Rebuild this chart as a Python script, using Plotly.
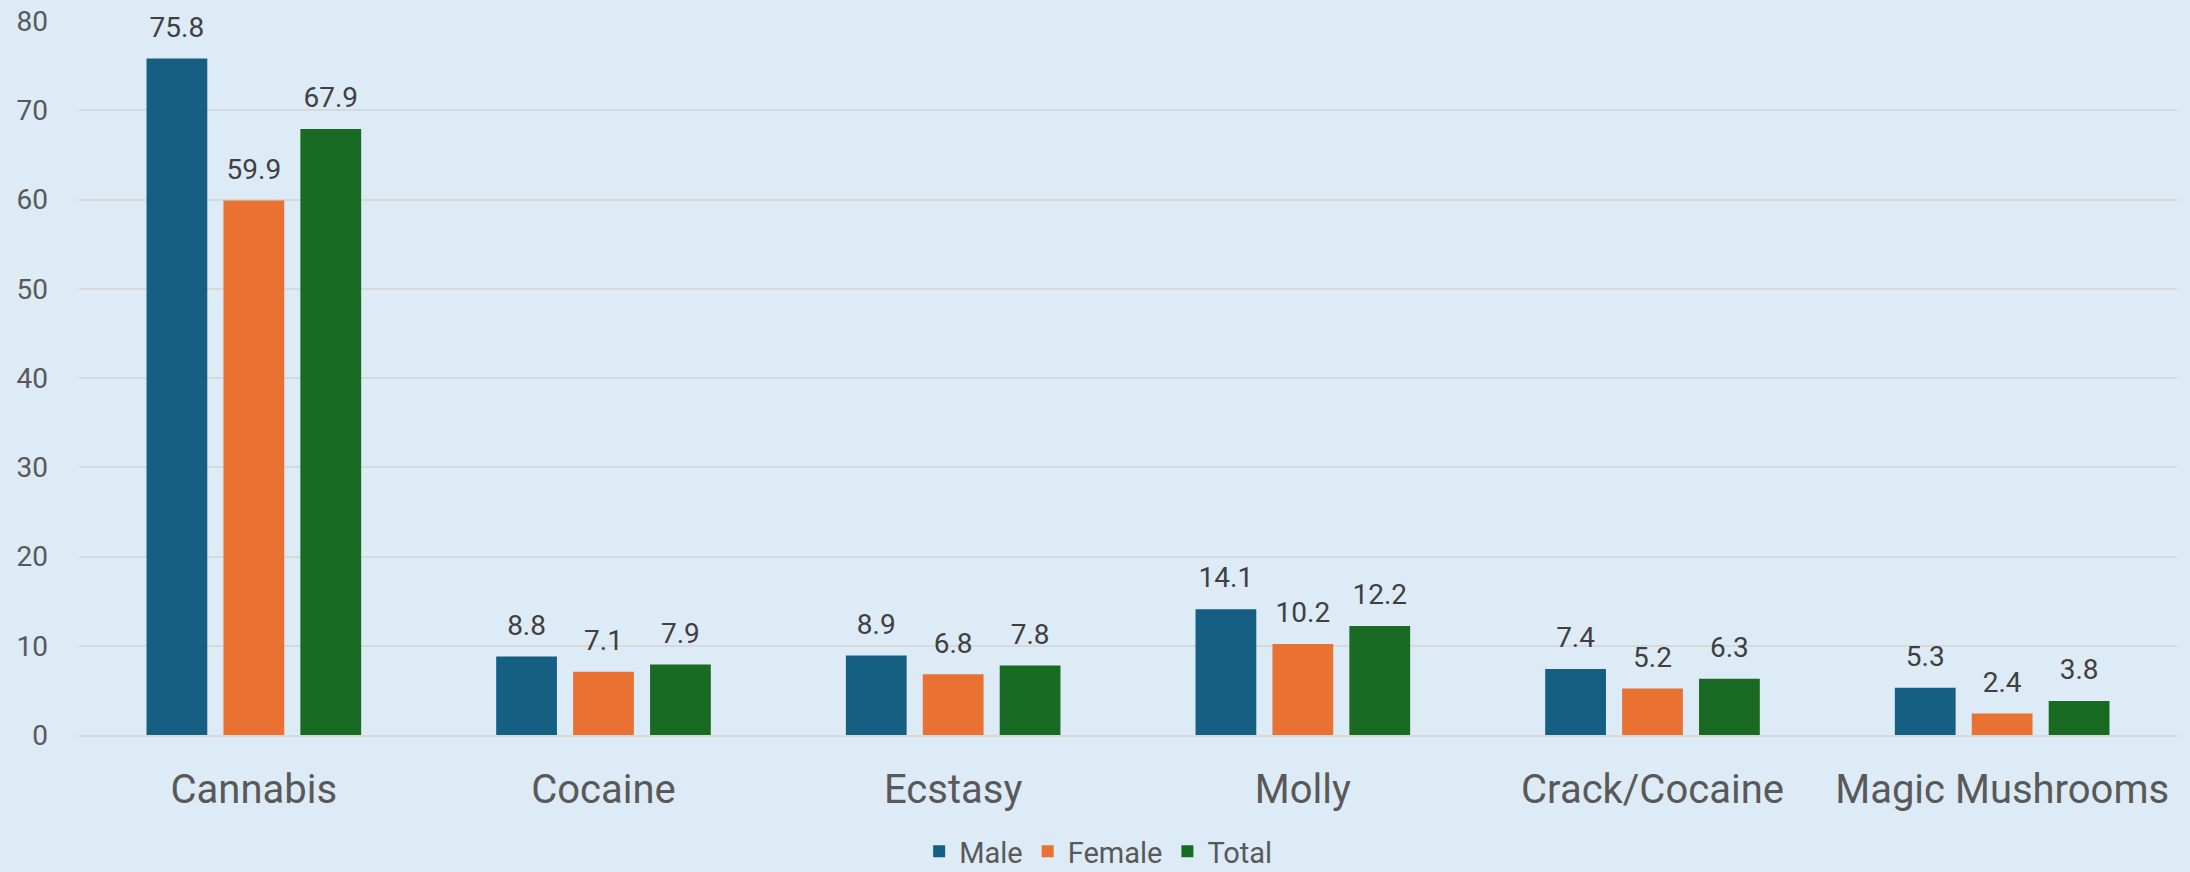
import plotly.graph_objects as go

categories = ["Cannabis", "Cocaine", "Ecstasy", "Molly", "Crack/Cocaine", "Magic Mushrooms"]
male = [75.8, 8.8, 8.9, 14.1, 7.4, 5.3]
female = [59.9, 7.1, 6.8, 10.2, 5.2, 2.4]
total = [67.9, 7.9, 7.8, 12.2, 6.3, 3.8]
series_names = ["Male", "Female", "Total"]
colors = ["#156082", "#E97132", "#196B24"]
y_ticks = [0, 10, 20, 30, 40, 50, 60, 70, 80]

FONT = "Roboto"
fig = go.Figure()
for i, (name, vals, col) in enumerate(zip(series_names, [male, female, total], colors)):
    fig.add_trace(go.Bar(
        name=name, x=categories, y=vals, offsetgroup=str(i),
        marker=dict(color=col, line=dict(width=0)),
        cliponaxis=False,
    ))
for i, (name, vals) in enumerate(zip(series_names, [male, female, total])):
    fig.add_trace(go.Scatter(
        x=categories, y=vals, offsetgroup=str(i), mode="markers+text",
        marker=dict(size=22, opacity=0), showlegend=False, hoverinfo="skip",
        text=[f"{v:.1f}" for v in vals], textposition="top center",
        textfont=dict(family=FONT, size=28, color="#404040"),
        cliponaxis=False,
    ))

fig.update_layout(
    width=2190, height=872,
    margin=dict(l=79, r=13, t=21, b=137, autoexpand=False),
    paper_bgcolor="#DDEBF7", plot_bgcolor="#DDEBF7",
    barmode="group", bargap=0.34, bargroupgap=0.21,
    scattermode="group", scattergap=0.34,
    font=dict(family=FONT, color="#595959"),
    showlegend=True,
    legend=dict(orientation="h", x=0.486, xanchor="center", y=-0.163, yanchor="middle",
                font=dict(family=FONT, size=29, color="#595959"),
                bgcolor="rgba(0,0,0,0)", itemwidth=30, traceorder="normal"),
)
fig.update_yaxes(range=[0, 80], tickvals=y_ticks, showgrid=True, gridcolor="#D9D9D9", gridwidth=2,
                 zeroline=False, showline=False, ticks="",
                 tickfont=dict(family=FONT, size=28, color="#595959"), ticklabelstandoff=30)
fig.update_xaxes(showline=True, linecolor="#D9D9D9", linewidth=2, ticks="",
                 tickfont=dict(family=FONT, size=40, color="#595959"), ticklabelstandoff=18)

fig.write_html("out.html", config={"displayModeBar": False},
               post_script="document.body.style.margin='0';document.body.style.overflow='hidden';")
